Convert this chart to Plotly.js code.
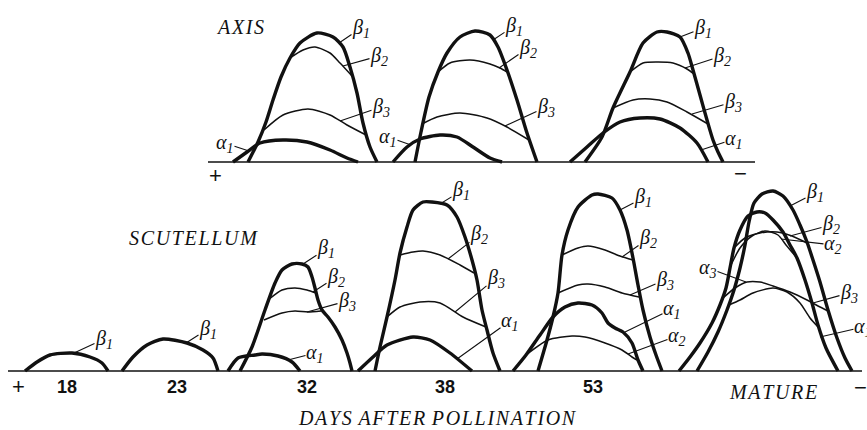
<!DOCTYPE html>
<html>
<head>
<meta charset="utf-8">
<script src="https://cdn.plot.ly/plotly-3.0.1.min.js"></script>
<style>html,body{margin:0;padding:0;background:#fff;}#chart{width:867px;height:430px;}</style>
</head>
<body>
<div id="chart"></div>
<script>
// ===== Densitometer traces (x = electrophoretic position, h = density above baseline) =====
// ---- AXIS panel ----
const axis1_b1_x = [248,258,266,273,281,290,300,317,333,343,350,357,363,370,377];
const axis1_b1_h = [0,20,40,62,85,104,119,129,125,115,95,69,39,15,0];
const axis1_b2_x = [290,303,315,330,340,352];
const axis1_b2_h = [104,112,115,109,99,86];
const axis1_b3_x = [264,283,308,330,347,366];
const axis1_b3_h = [32,47,53,47,37,27];
const axis1_a1_x = [233,247,260,283,307,330,347,358];
const axis1_a1_h = [0,10,19,22,20,12,4,0];

const axis2_b1_x = [415,421,429,438,447,460,475,490,498,507,517,527,537];
const axis2_b1_h = [0,30,65,90,109,125,131,127,115,92,62,29,0];
const axis2_b2_x = [438,450,470,490,500,507];
const axis2_b2_h = [90,99,102,98,94,90];
const axis2_b3_x = [422,437,460,487,507,529];
const axis2_b3_h = [38,45,49,44,35,22];
const axis2_a1_x = [393,407,420,440,457,473,490,502];
const axis2_a1_h = [0,15,23,27,25,15,4,0];

const axis3_b1_x = [585,602,613,630,643,657,667,680,688,693,700,707,713,718,723];
const axis3_b1_h = [0,25,54,90,119,130,130,125,109,92,67,42,22,10,0];
const axis3_b2_x = [630,643,657,673,687,694];
const axis3_b2_h = [90,99,100,99,93,88];
const axis3_b3_x = [613,633,650,667,687,708];
const axis3_b3_h = [54,62,63,60,50,38];
const axis3_a1_x = [570,587,603,620,640,660,680,697,708];
const axis3_a1_h = [0,15,29,40,44,43,34,19,0];

// ---- SCUTELLUM panel ----
const sc18_b1_x = [25,37,50,72,90,102,108];
const sc18_b1_h = [0,9,16,18,14,8,0];

const sc23_b1_x = [122,133,147,163,187,203,213,218];
const sc23_b1_h = [0,14,26,32,28,21,13,0];

const sc32_b1_x = [240,252,265,275,282,292,302,308,312,315,318,322,328,335,342,347,350,352];
const sc32_b1_h = [0,24,61,88,101,107,107,104,94,83,71,61,54,44,31,18,8,0];
const sc32_b2_x = [268,282,295,307,316];
const sc32_b2_h = [71,81,83,81,78];
const sc32_b3_x = [264,282,295,308,321];
const sc32_b3_h = [51,58,60,59,60];
const sc32_a1_x = [228,238,255,262,278,292,300];
const sc32_a1_h = [0,13,16,17,15,9,0];

const sc38_b1_x = [375,380,387,395,400,407,413,423,432,447,457,465,472,477,482,487,493,500];
const sc38_b1_h = [0,24,54,91,118,144,161,169,169,166,154,134,111,91,61,41,18,0];
const sc38_b2_x = [400,413,423,440,460,474];
const sc38_b2_h = [116,119,120,116,106,98];
const sc38_b3_x = [387,400,420,440,463,486];
const sc38_b3_h = [54,64,69,68,54,44];
const sc38_a1_x = [358,373,387,413,430,450,472];
const sc38_a1_h = [0,14,26,34,31,18,0];

const sc53_b1_x = [538,547,553,558,562,568,578,592,598,612,620,627,633,638,643,650,656,662];
const sc53_b1_h = [0,31,54,78,116,141,164,176,177,173,161,141,113,86,61,34,16,0];
const sc53_b2_x = [562,578,588,605,620,633];
const sc53_b2_h = [116,123,125,121,115,111];
const sc53_b3_x = [558,578,588,605,622,639];
const sc53_b3_h = [78,86,87,84,78,74];
const sc53_a1_x = [513,526,540,553,565,578,592,602,608,615,623,632,638,643];
const sc53_a1_h = [0,16,36,54,64,68,66,58,48,43,39,28,11,0];
const sc53_a2_x = [526,548,572,585,605,622,632,637];
const sc53_a2_h = [16,31,35,34,28,21,14,11];

const scM_b1_x = [697,708,718,727,734,740,745,749,754,762,773,783,793,800,807,813,820,828,837,845,852];
const scM_b1_h = [0,19,39,61,81,103,126,149,168,177,180,175,161,146,129,111,89,61,33,13,0];
const scM_a1_x = [679,690,700,712,720,726,730,734,740,748,757,765,773,783,790,797,805,812,818,826,838];
const scM_a1_h = [0,14,28,48,66,83,103,123,141,155,159,158,151,139,126,113,91,68,46,23,0];
const scM_b2_x = [735,745,760,777,792,807];
const scM_b2_h = [124,133,138,139,135,128];
const scM_a2_x = [731,740,752,765,778,786,797];
const scM_a2_h = [106,123,135,140,136,126,113];
const scM_b3_x = [723,735,747,760,773,790,807,818,828];
const scM_b3_h = [73,83,89,89,85,79,71,65,60];
const scM_a3_x = [729,740,753,773,787,800,810,819];
const scM_a3_h = [66,71,78,83,79,68,53,43];

// ---- text ----
const dayLabels = ['18','23','32','38','53'];
const matureLabel = 'MATURE';
const xTitle = 'DAYS AFTER POLLINATION';
const topPanelName = 'AXIS';
const bottomPanelName = 'SCUTELLUM';

// ===== build =====
const INK = '#111';
const SERIF = 'Liberation Serif, DejaVu Serif, serif';
const SANS = 'Liberation Sans, Arial, sans-serif';
const traces = [];
function curve(x, h, yax, thick) {
  traces.push({x: x, y: h, yaxis: yax, xaxis: 'x', mode: 'lines', hoverinfo: 'skip',
    line: {color: INK, width: thick ? 3.4 : 1.5, shape: 'spline', smoothing: 0.7}});
}
// baselines
traces.push({x: [208, 755], y: [0, 0], yaxis: 'y', mode: 'lines', hoverinfo: 'skip', line: {color: INK, width: 1.5}});
traces.push({x: [8, 862], y: [0, 0], yaxis: 'y2', mode: 'lines', hoverinfo: 'skip', line: {color: INK, width: 1.5}});

// thin curves first
[[axis1_b2_x,axis1_b2_h],[axis1_b3_x,axis1_b3_h],[axis2_b2_x,axis2_b2_h],[axis2_b3_x,axis2_b3_h],
 [axis3_b2_x,axis3_b2_h],[axis3_b3_x,axis3_b3_h]].forEach(c => curve(c[0], c[1], 'y', false));
[[sc32_b2_x,sc32_b2_h],[sc32_b3_x,sc32_b3_h],[sc38_b2_x,sc38_b2_h],[sc38_b3_x,sc38_b3_h],
 [sc53_b2_x,sc53_b2_h],[sc53_b3_x,sc53_b3_h],[sc53_a2_x,sc53_a2_h],
 [scM_b2_x,scM_b2_h],[scM_a2_x,scM_a2_h],[scM_b3_x,scM_b3_h],[scM_a3_x,scM_a3_h]].forEach(c => curve(c[0], c[1], 'y2', false));
// thick curves
[[axis1_b1_x,axis1_b1_h],[axis1_a1_x,axis1_a1_h],[axis2_b1_x,axis2_b1_h],[axis2_a1_x,axis2_a1_h],
 [axis3_b1_x,axis3_b1_h],[axis3_a1_x,axis3_a1_h]].forEach(c => curve(c[0], c[1], 'y', true));
[[sc18_b1_x,sc18_b1_h],[sc23_b1_x,sc23_b1_h],[sc32_b1_x,sc32_b1_h],[sc32_a1_x,sc32_a1_h],
 [sc38_b1_x,sc38_b1_h],[sc38_a1_x,sc38_a1_h],[sc53_b1_x,sc53_b1_h],[sc53_a1_x,sc53_a1_h],
 [scM_b1_x,scM_b1_h],[scM_a1_x,scM_a1_h]].forEach(c => curve(c[0], c[1], 'y2', true));

// ===== labels with leader lines =====
function band(g, n) { return '<i>' + g + '<sub>' + n + '</sub></i>'; }
const ann = [];
function lab(g, n, tipX, tipH, txtX, txtH, yref) {
  ann.push({text: band(g, n), x: tipX, y: tipH, ax: txtX, ay: txtH, xref: 'x', yref: yref,
    axref: 'x', ayref: yref, showarrow: true, arrowhead: 0, arrowwidth: 1.1, arrowcolor: INK,
    standoff: 0, borderpad: 0, font: {family: SERIF, size: 20, color: INK}});
}
// AXIS
lab('α',1, 249,11, 225,19, 'y');
lab('β',1, 339,119, 361,134, 'y');
lab('β',2, 343,96, 379,106, 'y');
lab('β',3, 340,41, 381,55, 'y');
lab('α',1, 411,17, 388,25, 'y');
lab('β',1, 493,122, 514,136, 'y');
lab('β',2, 499,94, 528,114, 'y');
lab('β',3, 505,36, 546,55, 'y');
lab('β',1, 680,125, 703,134, 'y');
lab('β',2, 685,94, 722,106, 'y');
lab('β',3, 692,48, 733,60, 'y');
lab('α',1, 701,12, 734,23, 'y');
// SCUTELLUM
lab('β',1, 74,18, 104,32, 'y2');
lab('β',1, 186,28, 208,42, 'y2');
lab('β',1, 303,107, 326,122, 'y2');
lab('β',2, 313,79, 336,94, 'y2');
lab('β',3, 307,59, 347,70, 'y2');
lab('α',1, 288,11, 315,18, 'y2');
lab('β',1, 440,167, 461,180, 'y2');
lab('β',2, 448,112, 479,136, 'y2');
lab('β',3, 455,59, 496,93, 'y2');
lab('α',1, 457,12, 510,50, 'y2');
lab('β',1, 620,161, 643,173, 'y2');
lab('β',2, 622,114, 648,132, 'y2');
lab('β',3, 630,76, 665,91, 'y2');
lab('α',1, 625,39, 672,62, 'y2');
lab('α',2, 628,17, 677,35, 'y2');
lab('β',1, 790,165, 815,178, 'y2');
lab('β',2, 790,135, 831,146, 'y2');
lab('α',2, 781,132, 833,126, 'y2');
lab('α',3, 746,89, 708,103, 'y2');
lab('β',3, 813,68, 849,78, 'y2');
lab('α',1, 820,34, 863,44, 'y2');

function spaced(s) { return s.split(' ').map(w => w.split('').join('\u200A')).join(' \u200A'); }
function txt(t, x, y, yref, font) {
  ann.push({text: t, x: x, y: y, xref: 'x', yref: yref, showarrow: false, font: font});
}
const serifIt = {family: SERIF, size: 20, color: INK};
txt('<i>' + spaced(topPanelName) + '</i>', 240, 135, 'y', serifIt);
txt('<i>' + spaced(bottomPanelName) + '</i>', 193, 133, 'y2', serifIt);
txt('<i>' + spaced(matureLabel) + '</i>', 773, -21, 'y2', serifIt);
txt('<i>' + spaced(xTitle) + '</i>', 437, -47, 'y2', serifIt);
const dayX = [67, 177, 307, 445, 593];
dayLabels.forEach((d, i) => txt('<b>' + d + '</b>', dayX[i], -16, 'y2', {family: SANS, size: 18, color: INK}));
const signFont = {family: SANS, size: 22, color: INK};
txt('+', 215, -13, 'y', signFont);
txt('\u2212', 740, -11, 'y', signFont);
txt('+', 18, -15, 'y2', signFont);
txt('\u2212', 860, -16, 'y2', signFont);

const layout = {
  width: 867, height: 430, margin: {l: 0, r: 0, t: 0, b: 0},
  paper_bgcolor: '#fff', plot_bgcolor: 'rgba(0,0,0,0)', showlegend: false,
  xaxis: {range: [0, 867], visible: false, fixedrange: true},
  yaxis: {domain: [250/430, 1], range: [-18, 162], visible: false, fixedrange: true},
  yaxis2: {domain: [0, 250/430], range: [-59, 191], visible: false, anchor: 'x', fixedrange: true},
  annotations: ann
};
Plotly.newPlot('chart', traces, layout, {staticPlot: true, displayModeBar: false});
</script>
</body>
</html>
